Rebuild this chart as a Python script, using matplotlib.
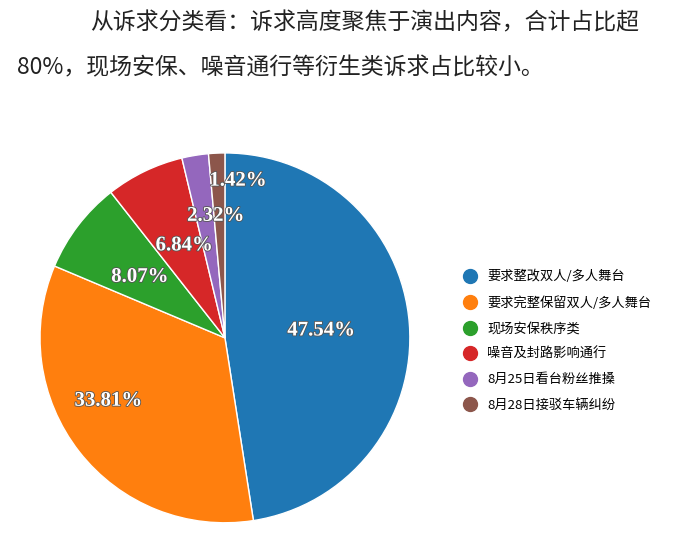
import numpy as np
import matplotlib
matplotlib.use("Agg")
import matplotlib.pyplot as plt
from matplotlib.lines import Line2D
import matplotlib.patheffects as pe

plt.rcParams['font.family'] = ['Noto Sans CJK SC', 'DejaVu Sans']

categories = ["要求整改双人/多人舞台", "要求完整保留双人/多人舞台", "现场安保秩序类",
              "噪音及封路影响通行", "8月25日看台粉丝推搡", "8月28日接驳车辆纠纷"]
values = [47.54, 33.81, 8.07, 6.84, 2.32, 1.42]
colors = ["#1f77b4", "#ff7f0e", "#2ca02c", "#d62728", "#9467bd", "#8c564b"]
# label anchor positions (in pie radius units)
label_pos = [(0.52, 0.04), (-0.63, -0.34), (-0.46, 0.33), (-0.22, 0.50), (-0.05, 0.66), (0.07, 0.85)]

fig = plt.figure(figsize=(6.9, 5.38), dpi=100)
fig.text(0.13, 0.945, "从诉求分类看：诉求高度聚焦于演出内容，合计占比超", fontsize=16.5, color="#222")
fig.text(0.025, 0.862, "80%，现场安保、噪音通行等衍生类诉求占比较小。", fontsize=16.5, color="#222")

ax = fig.add_axes([0.058, 0.028, 0.536, 0.688])
wedges, _ = ax.pie(values, colors=colors, startangle=90, counterclock=False,
                   wedgeprops=dict(edgecolor="white", linewidth=1))
ax.set_xlim(-1.0, 1.0)
ax.set_ylim(-1.0, 1.0)
for v, (x, y) in zip(values, label_pos):
    ax.text(x, y, f"{v:.2f}%", ha="center", va="center",
            color="white", fontsize=15, fontweight="bold", family="Liberation Serif",
            path_effects=[pe.withStroke(linewidth=1.2, foreground="#555")])
ax.set_aspect("equal")

handles = [Line2D([], [], marker="o", linestyle="", markersize=10, markerfacecolor=c,
                  markeredgecolor=c) for c in colors]
fig.legend(handles, categories, loc="upper left", bbox_to_anchor=(0.645, 0.52),
           frameon=False, fontsize=9.5, handletextpad=0.3, labelspacing=0.95)
fig.savefig("out.png", dpi=100)
